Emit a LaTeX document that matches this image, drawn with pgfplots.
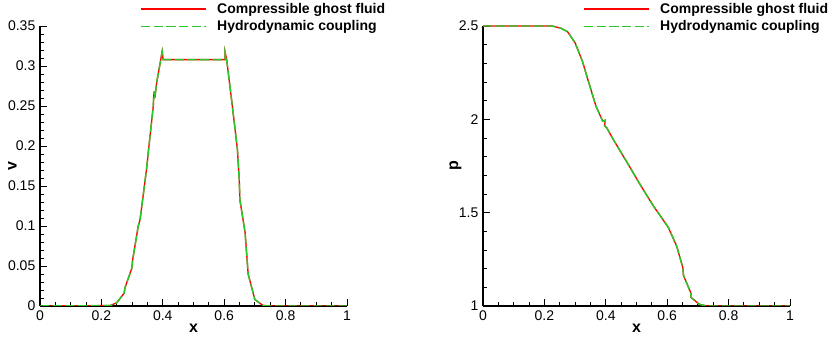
\documentclass[border=0pt]{standalone}
\usepackage{fontspec}
\setmainfont{Liberation Sans}
\usepackage{pgfplots}
\pgfplotsset{compat=1.18}
\definecolor{tgreen}{RGB}{40,200,40}
\pgfplotstableread{
x v
0 0
0.228 0.0005
0.250 0.004
0.274 0.016
0.277 0.023
0.299 0.047
0.302 0.058
0.320 0.100
0.326 0.108
0.347 0.171
0.355 0.200
0.369 0.250
0.371 0.267
0.375 0.268
0.374 0.260
0.380 0.279
0.398 0.318
0.401 0.308
0.500 0.308
0.603 0.308
0.603 0.317
0.608 0.308
0.624 0.258
0.643 0.196
0.649 0.158
0.651 0.133
0.668 0.092
0.678 0.040
0.700 0.008
0.727 0.0005
0.75 0
1 0
}\vdata
\pgfplotstableread{
x p
0 2.5
0.225 2.5
0.252 2.489
0.275 2.47
0.300 2.41
0.324 2.31
0.344 2.20
0.368 2.07
0.390 1.99
0.398 1.995
0.396 1.965
0.403 1.955
0.425 1.89
0.469 1.77
0.512 1.65
0.555 1.536
0.604 1.42
0.631 1.32
0.651 1.205
0.653 1.164
0.677 1.07
0.678 1.045
0.705 1.009
0.729 1.0
1 1
}\pdata
\pgfplotsset{
  every axis/.append style={
    scale only axis, width=230.25pt, height=210pt,
    font=\fontsize{10.5}{12.6}\selectfont,
    axis x line*=bottom, axis y line*=left,
    axis line style={line width=0.8pt},
    every tick/.style={black, line width=0.7pt},
    tick align=inside,
    major tick length=5pt, minor tick length=3pt,
    xmin=0, xmax=1, xtick={0,0.2,...,1}, minor x tick num=3,
    /pgf/number format/assume math mode=true,
    /pgf/number format/fixed,
    xlabel={\bfseries x},
    xlabel style={font=\fontsize{12}{14}\selectfont, yshift=4pt},
    ylabel style={font=\fontsize{12}{14}\selectfont, at={(axis description cs:-0.09,0.5)}, anchor=center},
    legend style={draw=none, fill=none, inner sep=0pt, font=\fontsize{10.5}{12.6}\selectfont\bfseries,
      at={(0.326,1.09)}, anchor=north west, row sep=1pt,
      nodes={inner sep=1.5pt}},
    legend cell align=left,
    legend image code/.code={\draw[##1] (0pt,0pt) -- (49pt,0pt); \path (55pt,0pt);},
  }
}
\begin{document}
\begin{tikzpicture}
\useasboundingbox (-30pt,-24pt) rectangle (595.5pt,229.5pt);
\begin{axis}[
  ymin=0, ymax=0.35, ytick={0,0.05,...,0.35}, minor y tick num=4,
  yticklabel style={/pgf/number format/precision=2},
  ylabel={\bfseries v},
]
\addplot[red, line width=1pt] table[x=x,y=v] {\vdata};
\addlegendentry{Compressible ghost fluid}
\addplot[tgreen, line width=1.1pt, dash pattern=on 7pt off 2.5pt] table[x=x,y=v] {\vdata};
\addlegendentry{Hydrodynamic coupling}
\end{axis}
\begin{axis}[
  xshift=332.25pt,
  ymin=1, ymax=2.5, ytick={1,1.5,2,2.5}, minor y tick num=4,
  ylabel={\bfseries p},
]
\addplot[red, line width=1pt] table[x=x,y=p] {\pdata};
\addlegendentry{Compressible ghost fluid}
\addplot[tgreen, line width=1.1pt, dash pattern=on 7pt off 2.5pt] table[x=x,y=p] {\pdata};
\addlegendentry{Hydrodynamic coupling}
\end{axis}
\end{tikzpicture}
\end{document}
